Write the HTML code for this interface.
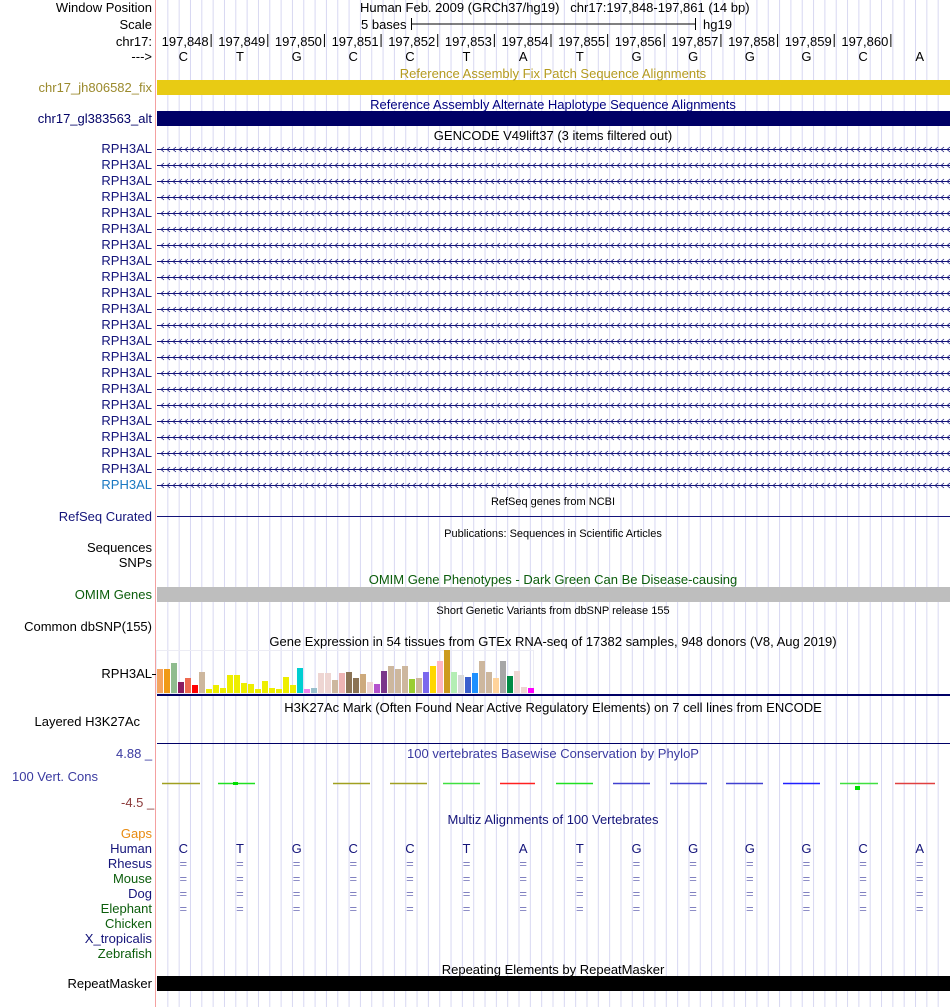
<!DOCTYPE html>
<html><head><meta charset="utf-8">
<style>
body{margin:0;background:#fff;font-family:"Liberation Sans",sans-serif;}
#root{position:relative;width:950px;height:1007px;overflow:hidden;}
.t{position:absolute;white-space:nowrap;font-size:13px;line-height:14px;}
.lb{position:absolute;right:798px;white-space:nowrap;font-size:13px;line-height:14px;text-align:right;}
.c{position:absolute;left:156px;width:794px;text-align:center;white-space:nowrap;font-size:13px;line-height:14px;}
</style></head><body>
<div id="root">
<svg id="grid" width="950" height="1007" style="position:absolute;left:0;top:0"></svg>
<div id="labels"></div>
</div>
<script>
const bases=['C','T','G','C','C','T','A','T','G','G','G','G','C','A'];
const positions=['197,848','197,849','197,850','197,851','197,852','197,853','197,854','197,855','197,856','197,857','197,858','197,859','197,860'];
const gtexHeights=[24,24,30,11,15,8,21,4,8,5,18,18,10,9,4,12,5,4,16,8,25,4,5,20,20,13,20,21,15,19,11,9,22,27,24,27,14,15,21,27,32,43,21,18,16,20,32,21,15,32,17,22,6,5];
const gtexColors=['#f4a460','#f09a16','#8fbc8f','#8b1c62','#ee6a50','#ff0000','#cdb79e','#eeee00','#eeee00','#eeee00','#eeee00','#eeee00','#eeee00','#eeee00','#eeee00','#eeee00','#eeee00','#eeee00','#eeee00','#eeee00','#00ced1','#ee82ee','#9ac0cd','#eed5d2','#eed5d2','#cdb79e','#eeb4b4','#8b7355','#8b7355','#cdaa7d','#eed5d2','#b452cd','#7a378b','#cdb79e','#cdb79e','#cdb79e','#9acd32','#cdb79e','#7b68ee','#ffd700','#ffb6c1','#cd9b1d','#b4eeb4','#d9d9d9','#3a5fcd','#1e90ff','#cdb79e','#cdb79e','#ffd39b','#a6a6a6','#008b45','#eed5d2','#eed5d2','#ff00ff'];
const R=document.getElementById('root'),G=document.getElementById('grid'),NS='http://www.w3.org/2000/svg';
const X0=156,W=793,bw=W/bases.length;
function rect(x,y,w,h,f,name){const r=document.createElementNS(NS,'rect');r.setAttribute('x',x);r.setAttribute('y',y);r.setAttribute('width',w);r.setAttribute('height',h);r.setAttribute('fill',f);


G.appendChild(r);return r;}
function line(x1,y1,x2,y2,s,w,name){const l=document.createElementNS(NS,'line');l.setAttribute('x1',x1);l.setAttribute('y1',y1);l.setAttribute('x2',x2);l.setAttribute('y2',y2);l.setAttribute('stroke',s);l.setAttribute('stroke-width',w||1);


G.appendChild(l);}
for(let k=1;k<70;k++){const x=X0+k*W/70+0.5;line(x,0,x,1007,'#d8d8f2',1,'grid-line');}
line(155.5,0,155.5,1007,'#f4a0a0',1,'left-border');
function txt(cls,top,s,color,name,extra){const d=document.createElement('div');d.className=cls;d.style.top=top+'px';d.textContent=s;if(color)d.style.color=color;if(extra)Object.assign(d.style,extra);


R.appendChild(d);return d;}
txt('lb',1,'Window Position','#000','window-position-label');
txt('lb',18,'Scale','#000','scale-label');
txt('lb',35,'chr17:','#000','chrom-label');
txt('lb',50,'--->','#000','strand-label');
txt('t',1,'Human Feb. 2009 (GRCh37/hg19)   chr17:197,848-197,861 (14 bp)','#000','window-position-text',{left:'360px',whiteSpace:'pre'});
txt('t',18,'5 bases','#000','scale-text',{left:'361px'});
line(411,24,695,24,'#000',1,'scale-bar');line(411.5,18,411.5,30,'#000',1,'scale-tick');line(695.5,18,695.5,30,'#000',1,'scale-tick');
txt('t',18,'hg19','#000','assembly-text',{left:'703px'});
positions.forEach((p,i)=>{const x=X0+(i+1)*bw;line(x-1.5,34,x-1.5,47,'#000',1,'position-tick');txt('t',35,p,'#000','position-label',{left:(x-52)+'px',width:'48px',textAlign:'right'});});
bases.forEach((b,i)=>{txt('t',50,b,'#000','base-letter',{left:(X0+(i+0.5)*bw-6)+'px',width:'10px',textAlign:'center'});});
txt('c',67,'Reference Assembly Fix Patch Sequence Alignments','#b49a1e','fix-patch-title');
txt('lb',81,'chr17_jh806582_fix','#9b8a2d','fix-patch-label');rect(157,80,793,15,'#e8cb14','fix-patch-bar');
txt('c',98,'Reference Assembly Alternate Haplotype Sequence Alignments','#000080','alt-haplotype-title');
txt('lb',112,'chr17_gl383563_alt','#000066','alt-haplotype-label');rect(157,111,793,15,'#000066','alt-haplotype-bar');
txt('c',129,'GENCODE V49lift37 (3 items filtered out)','#000','gencode-title');
for(let r=0;r<22;r++){const y=142+r*16;txt('lb',y,'RPH3AL',r==21?'#1a78c2':'#14147a','gencode-transcript-label');line(157,y+7.5,950,y+7.5,'#14147a',1,'transcript-line');
const p=document.createElementNS(NS,'path');let d='';for(let x=160;x<948;x+=6)d+=`M${x+4},${y+5}L${x+1},${y+7.5}L${x+4},${y+10}`;p.setAttribute('d',d);p.setAttribute('stroke','#14147a');p.setAttribute('fill','none');p.setAttribute('stroke-width','0.8');


G.appendChild(p);}
txt('c',495,'RefSeq genes from NCBI','#000','refseq-title',{fontSize:'11px'});
txt('lb',510,'RefSeq Curated','#14147a','refseq-label');line(157,516.5,950,516.5,'#14147a',1,'refseq-line');
txt('c',527,'Publications: Sequences in Scientific Articles','#000','publications-title',{fontSize:'11px'});
txt('lb',541,'Sequences','#000','sequences-label');txt('lb',556,'SNPs','#000','snps-label');
txt('c',573,'OMIM Gene Phenotypes - Dark Green Can Be Disease-causing','#0b5d0b','omim-title');
txt('lb',588,'OMIM Genes','#0b5d0b','omim-label');rect(157,587,793,15,'#bebebe','omim-bar');
txt('c',604,'Short Genetic Variants from dbSNP release 155','#000','dbsnp-title',{fontSize:'11px'});
txt('lb',620,'Common dbSNP(155)','#000','dbsnp-label');
txt('c',635,'Gene Expression in 54 tissues from GTEx RNA-seq of 17382 samples, 948 donors (V8, Aug 2019)','#000','gtex-title');
txt('lb',667,'RPH3AL','#000','gtex-label');
rect(156.5,650.5,377,43,'none','gtex-box').setAttribute('stroke','#ececf4');
const gb=693,gbw=7;
gtexHeights.forEach((h,i)=>{rect(X0+1+i*gbw,gb-h,gbw-1,h,gtexColors[i%gtexColors.length],'gtex-bar');});
line(152,674.5,156,674.5,'#000',1,'gtex-axis-tick');
rect(157,694,793,2,'#000066','gtex-baseline');
txt('c',701,'H3K27Ac Mark (Often Found Near Active Regulatory Elements) on 7 cell lines from ENCODE','#000','h3k27ac-title');
txt('lb',715,'Layered H3K27Ac','#000','h3k27ac-label',{right:'810px'});
line(157,743.5,950,743.5,'#000066',1,'h3k27ac-line');
txt('c',747,'100 vertebrates Basewise Conservation by PhyloP','#3a3aa0','phylop-title');
txt('t',747,'4.88 _','#3a3aa0','phylop-max-label',{left:'116px'});
txt('t',770,'100 Vert. Cons','#3a3aa0','phylop-label',{left:'12px'});
txt('t',796,'-4.5 _','#8b3a3a','phylop-min-label',{left:'121px'});
const cons=[['#a0a020',162,200],['#20e020',218,255],['#a0a020',333,370],['#a0a020',390,427],['#40e040',443,480],['#ff2020',500,535],['#20e020',556,593],['#4040d0',613,650],['#4040d0',670,707],['#4040d0',726,763],['#2020ff',783,820],['#40e040',840,878],['#e04040',895,935]];
cons.forEach(c=>{line(c[1],783.5,c[2],783.5,c[0],1.5,'phylop-mark');});
rect(233,782,5,3,'#00e000','phylop-mark');rect(855,786,5,4,'#00e000','phylop-mark');
txt('c',813,'Multiz Alignments of 100 Vertebrates','#14147a','multiz-title');
const sp=[['Gaps','#e88a10'],['Human','#14147a'],['Rhesus','#14147a'],['Mouse','#0b5d0b'],['Dog','#14147a'],['Elephant','#0b5d0b'],['Chicken','#0b5d0b'],['X_tropicalis','#14147a'],['Zebrafish','#0b5d0b']];
sp.forEach((s,i)=>txt('lb',827+i*15,s[0],s[1],'species-label-'+s[0].toLowerCase()));
bases.forEach((b,i)=>{const x=X0+(i+0.5)*bw-6;txt('t',842,b,'#14147a','human-base',{left:x+'px',width:'10px',textAlign:'center'});
for(let j=0;j<4;j++)txt('t',857+j*15,'=','#8080c0','alignment-match',{left:x+'px',width:'10px',textAlign:'center'});});
txt('c',963,'Repeating Elements by RepeatMasker','#000','repeatmasker-title');
txt('lb',977,'RepeatMasker','#000','repeatmasker-label');rect(157,976,793,15,'#000','repeatmasker-bar');
</script>
</body></html>
